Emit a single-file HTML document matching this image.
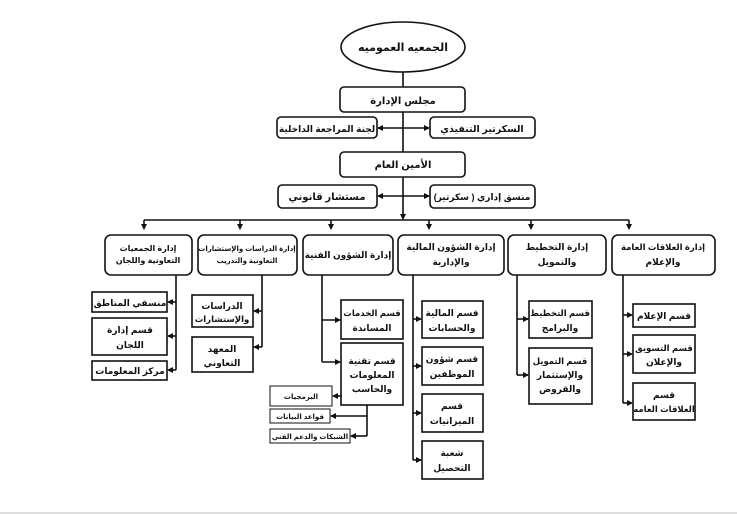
<!DOCTYPE html>
<html><head><meta charset="utf-8"><style>
html,body{margin:0;padding:0;background:#fff;}
svg{display:block;}
text{font-family:"Liberation Sans","DejaVu Sans",sans-serif;font-weight:bold;fill:#111;text-anchor:middle;}
</style></head><body>
<svg width="737" height="514" viewBox="0 0 737 514" xmlns="http://www.w3.org/2000/svg">
<defs>
<marker id="a" markerWidth="6" markerHeight="6" refX="5" refY="3" orient="auto" markerUnits="userSpaceOnUse">
<path d="M0,0 L6,3 L0,6 z" fill="#111"/></marker>
</defs>
<g stroke="#111" stroke-width="1.6" fill="none">
<ellipse cx="403" cy="47" rx="62" ry="25" fill="#fff"/>
<line x1="403" y1="72" x2="403" y2="87"/>
<line x1="403" y1="112" x2="403" y2="152"/>
<line x1="403" y1="177" x2="403" y2="219" marker-end="url(#a)"/>
<line x1="403" y1="128" x2="378" y2="128" marker-end="url(#a)"/>
<line x1="403" y1="128" x2="429" y2="128" marker-end="url(#a)"/>
<line x1="403" y1="196" x2="378" y2="196" marker-end="url(#a)"/>
<line x1="403" y1="196" x2="429" y2="196" marker-end="url(#a)"/>
<line x1="144" y1="220" x2="629" y2="220"/>
<line x1="144" y1="220" x2="144" y2="229" marker-end="url(#a)"/>
<line x1="240" y1="220" x2="240" y2="229" marker-end="url(#a)"/>
<line x1="331" y1="220" x2="331" y2="229" marker-end="url(#a)"/>
<line x1="429" y1="220" x2="429" y2="229" marker-end="url(#a)"/>
<line x1="531" y1="220" x2="531" y2="229" marker-end="url(#a)"/>
<line x1="629" y1="220" x2="629" y2="229" marker-end="url(#a)"/>
<rect x="340" y="87" width="125" height="25" rx="4" fill="#fff"/>
<rect x="277" y="117" width="100" height="21" rx="4" fill="#fff"/>
<rect x="430" y="117" width="105" height="21" rx="4" fill="#fff"/>
<rect x="340" y="152" width="125" height="25" rx="4" fill="#fff"/>
<rect x="278" y="185" width="99" height="23" rx="4" fill="#fff"/>
<rect x="430" y="185" width="105" height="23" rx="4" fill="#fff"/>
<rect x="105" y="235" width="87" height="40" rx="6" fill="#fff"/>
<rect x="198" y="235" width="99" height="40" rx="6" fill="#fff"/>
<rect x="303" y="235" width="90" height="40" rx="6" fill="#fff"/>
<rect x="398" y="235" width="106" height="40" rx="6" fill="#fff"/>
<rect x="508" y="235" width="98" height="40" rx="6" fill="#fff"/>
<rect x="612" y="235" width="103" height="40" rx="6" fill="#fff"/>
<line x1="176" y1="275" x2="176" y2="370"/>
<line x1="176" y1="302" x2="168" y2="302" marker-end="url(#a)"/>
<line x1="176" y1="336" x2="168" y2="336" marker-end="url(#a)"/>
<line x1="176" y1="370" x2="168" y2="370" marker-end="url(#a)"/>
<rect x="92" y="292" width="75" height="20"/>
<rect x="92" y="318" width="75" height="37"/>
<rect x="92" y="361" width="75" height="19"/>
<line x1="262" y1="275" x2="262" y2="347"/>
<line x1="262" y1="311" x2="254" y2="311" marker-end="url(#a)"/>
<line x1="262" y1="347" x2="254" y2="347" marker-end="url(#a)"/>
<rect x="192" y="295" width="61" height="32"/>
<rect x="192" y="337" width="61" height="35"/>
<line x1="322" y1="275" x2="322" y2="362"/>
<line x1="322" y1="320" x2="340" y2="320" marker-end="url(#a)"/>
<line x1="322" y1="362" x2="340" y2="362" marker-end="url(#a)"/>
<rect x="341" y="300" width="62" height="39"/>
<rect x="341" y="343" width="62" height="62"/>
<line x1="342" y1="396" x2="333" y2="396" marker-end="url(#a)"/>
<line x1="367" y1="405" x2="367" y2="436"/>
<line x1="367" y1="416" x2="331" y2="416" marker-end="url(#a)"/>
<line x1="367" y1="436" x2="351" y2="436" marker-end="url(#a)"/>
<rect x="270" y="386" width="62" height="20" stroke-width="1"/>
<rect x="270" y="409" width="60" height="14" stroke-width="1"/>
<rect x="270" y="429" width="80" height="14" stroke-width="1"/>
<line x1="413" y1="275" x2="413" y2="460"/>
<line x1="413" y1="319" x2="421" y2="319" marker-end="url(#a)"/>
<line x1="413" y1="366" x2="421" y2="366" marker-end="url(#a)"/>
<line x1="413" y1="413" x2="421" y2="413" marker-end="url(#a)"/>
<line x1="413" y1="460" x2="421" y2="460" marker-end="url(#a)"/>
<rect x="422" y="301" width="61" height="37"/>
<rect x="422" y="347" width="61" height="38"/>
<rect x="422" y="394" width="61" height="38"/>
<rect x="422" y="441" width="61" height="38"/>
<line x1="517" y1="275" x2="517" y2="375"/>
<line x1="517" y1="319" x2="528" y2="319" marker-end="url(#a)"/>
<line x1="517" y1="375" x2="528" y2="375" marker-end="url(#a)"/>
<rect x="529" y="301" width="63" height="37"/>
<rect x="529" y="348" width="63" height="56"/>
<line x1="623" y1="275" x2="623" y2="403"/>
<line x1="623" y1="315" x2="632" y2="315" marker-end="url(#a)"/>
<line x1="623" y1="354" x2="632" y2="354" marker-end="url(#a)"/>
<line x1="623" y1="403" x2="632" y2="403" marker-end="url(#a)"/>
<rect x="633" y="304" width="62" height="23"/>
<rect x="633" y="335" width="62" height="38"/>
<rect x="633" y="383" width="62" height="37"/>
</g>
<line x1="0" y1="513" x2="737" y2="513" stroke="#ddd" stroke-width="2"/>
<g font-size="10">
<text x="403" y="51" font-size="11">الجمعيه العموميه</text>
<text x="403" y="104">مجلس الإدارة</text>
<text x="327" y="132" font-size="9">لجنة المراجعة الداخلية</text>
<text x="482" y="132" font-size="9.5">السكرتير التنفيذي</text>
<text x="403" y="168">الأمين العام</text>
<text x="327" y="200">مستشار قانوني</text>
<text x="482" y="200" font-size="9">منسق إداري ( سكرتير)</text>
</g>
<g font-size="8">
<text x="148" y="251">إدارة الجمعيات</text>
<text x="148" y="263">التعاونية واللجان</text>
<text x="247" y="251" font-size="7">إدارة الدراسات والإستشارات</text>
<text x="247" y="263" font-size="7">التعاونية والتدريب</text>
<text x="348" y="258" font-size="9">إدارة الشؤون الفنية</text>
<text x="451" y="250" font-size="9">إدارة الشؤون المالية</text>
<text x="451" y="265" font-size="9">والإدارية</text>
<text x="557" y="250" font-size="9">إدارة التخطيط</text>
<text x="557" y="265" font-size="9">والتمويل</text>
<text x="663" y="250" font-size="8.5">إدارة العلاقات العامة</text>
<text x="663" y="265" font-size="9">والإعلام</text>
</g>
<g font-size="9">
<text x="130" y="306">منسقي المناطق</text>
<text x="130" y="333">قسم إدارة</text>
<text x="130" y="348">اللجان</text>
<text x="130" y="374">مركز المعلومات</text>
<text x="222" y="309">الدراسات</text>
<text x="222" y="322" font-size="8.5">والإستشارات</text>
<text x="222" y="352">المعهد</text>
<text x="222" y="366">التعاوني</text>
<text x="372" y="316" font-size="8.5">قسم الخدمات</text>
<text x="372" y="331">المساندة</text>
<text x="372" y="364">قسم تقنية</text>
<text x="372" y="378">المعلومات</text>
<text x="372" y="392">والحاسب</text>
<text x="301" y="399" font-size="7">البرمجيات</text>
<text x="300" y="419" font-size="7">قواعد البيانات</text>
<text x="310" y="439" font-size="7">الشبكات والدعم الفني</text>
<text x="452" y="316">قسم المالية</text>
<text x="452" y="331">والحسابات</text>
<text x="452" y="362">قسم شؤون</text>
<text x="452" y="377">الموظفين</text>
<text x="452" y="409">قسم</text>
<text x="452" y="424">الميزانيات</text>
<text x="452" y="456">شعبة</text>
<text x="452" y="471">التحصيل</text>
<text x="560" y="316" font-size="8.5">قسم التخطيط</text>
<text x="560" y="331">والبرامج</text>
<text x="560" y="364" font-size="8.5">قسم التمويل</text>
<text x="560" y="378">والإستثمار</text>
<text x="560" y="392">والقروض</text>
<text x="664" y="319">قسم الإعلام</text>
<text x="664" y="351" font-size="8.5">قسم التسويق</text>
<text x="664" y="365">والإعلان</text>
<text x="664" y="398">قسم</text>
<text x="664" y="412" font-size="8.5">العلاقات العامه</text>
</g>
</svg>
</body></html>
